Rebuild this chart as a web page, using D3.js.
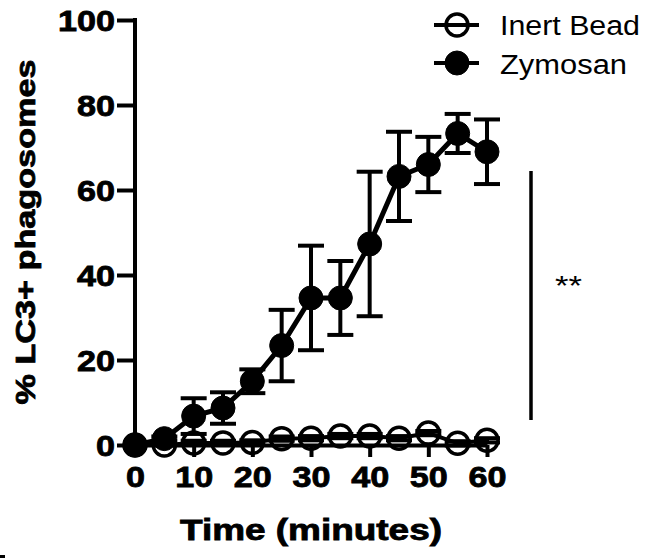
<!DOCTYPE html>
<html><head><meta charset="utf-8">
<script src="https://cdn.jsdelivr.net/npm/d3@7"></script>
<style>body{margin:0;background:#fff}svg{display:block}text{font-family:"Liberation Sans",Arial,sans-serif}</style>
</head><body>
<script>
const times = [0,5,10,15,20,25,30,35,40,45,50,55,60];
const zymosan = [0,1.5,6.8,8.7,15,23.4,34.6,34.6,47.3,63.2,66,73.3,69];
const zymosanErr = [0,0.5,4.2,3.7,2.8,8.4,12.3,8.7,17,10.5,6.5,4.6,7.6];
const inert = [0,0,0.5,0.5,0.6,1.5,1.6,2.1,2.1,1.6,2.8,0.4,1.1];
const inertErr = [0,0,0.5,0.5,0.5,0.5,0.5,0.5,0.5,0.5,0.5,0.5,0.5];
const xTicks = [0,10,20,30,40,50,60];
const yTicks = [0,20,40,60,80,100];
const seriesNames = ["Inert Bead","Zymosan"];

const W=657,H=558;
const svg=d3.select("body").append("svg").attr("width",W).attr("height",H);
const x=d3.scaleLinear().domain([0,60]).range([135,487]);
const y=d3.scaleLinear().domain([0,100]).range([445,20]);

// axes
const gx=svg.append("g").attr("transform","translate(0,445)")
  .call(d3.axisBottom(x).tickValues(xTicks).tickSize(12).tickPadding(9).tickSizeOuter(0));
const gy=svg.append("g").attr("transform","translate(135,0)")
  .call(d3.axisLeft(y).tickValues(yTicks).tickSize(18).tickPadding(2).tickSizeOuter(0));
[gx,gy].forEach(g=>{
  g.select(".domain").attr("stroke","#000").attr("stroke-width",4);
  g.selectAll(".tick line").attr("stroke","#000").attr("stroke-width",4);
  g.selectAll(".tick text").attr("fill","#000").attr("font-size",29).attr("font-weight","bold")
   .attr("stroke","#000").attr("stroke-width",0.8)
   .attr("textLength",d=>String(d).length*19).attr("lengthAdjust","spacingAndGlyphs");
});
gy.select(".domain").attr("d","M0,18V447");
gy.selectAll(".tick text").attr("dy","0.36em");

// titles
svg.append("text").attr("x",311).attr("y",540).attr("text-anchor","middle")
  .attr("font-size",29).attr("font-weight","bold").attr("stroke","#000").attr("stroke-width",0.8)
  .attr("textLength",262).attr("lengthAdjust","spacingAndGlyphs")
  .text("Time (minutes)");
svg.append("text").attr("transform","translate(35,232) rotate(-90)").attr("text-anchor","middle")
  .attr("font-size",28).attr("font-weight","bold").attr("stroke","#000").attr("stroke-width",0.8)
  .attr("textLength",345).attr("lengthAdjust","spacingAndGlyphs")
  .text("% LC3+ phagosomes");

function drawSeries(vals, errs, filled, lw){
  const g=svg.append("g");
  const pts=times.map((t,i)=>({t,v:vals[i],e:errs[i]}));
  const eb=pts.filter(d=>d.e>0);
  g.selectAll(null).data(eb).join("line")
    .attr("x1",d=>x(d.t)).attr("x2",d=>x(d.t)).attr("y1",d=>y(d.v+d.e)).attr("y2",d=>y(d.v-d.e))
    .attr("stroke","#000").attr("stroke-width",4);
  [1,-1].forEach(s=>{
    g.selectAll(null).data(eb).join("line")
      .attr("x1",d=>x(d.t)-13).attr("x2",d=>x(d.t)+13)
      .attr("y1",d=>y(d.v+s*d.e)).attr("y2",d=>y(d.v+s*d.e))
      .attr("stroke","#000").attr("stroke-width",4);
  });
  g.append("path").datum(pts).attr("fill","none").attr("stroke","#000").attr("stroke-width",lw)
    .attr("d",d3.line().x(d=>x(d.t)).y(d=>y(d.v)));
  g.selectAll(null).data(pts).join("circle")
    .attr("cx",d=>x(d.t)).attr("cy",d=>y(d.v)).attr("r",filled?12:11)
    .attr("fill",filled?"#000":"none").attr("stroke","#000").attr("stroke-width",filled?1:3.5);
}
drawSeries(inert, inertErr, false, 4);
drawSeries(zymosan, zymosanErr, true, 5);

// legend
const leg=[{name:seriesNames[0],filled:false,y:25,ty:35,w:140},{name:seriesNames[1],filled:true,y:63,ty:74,w:127}];
leg.forEach(l=>{
  svg.append("line").attr("x1",434).attr("x2",479).attr("y1",l.y).attr("y2",l.y).attr("stroke","#000").attr("stroke-width",4);
  svg.append("circle").attr("cx",457).attr("cy",l.y).attr("r",l.filled?12:11)
    .attr("fill",l.filled?"#000":"none").attr("stroke","#000").attr("stroke-width",l.filled?1:3.5);
  svg.append("text").attr("x",500).attr("y",l.ty).attr("font-size",27)
    .attr("textLength",l.w).attr("lengthAdjust","spacingAndGlyphs").text(l.name);
});

// significance
svg.append("line").attr("x1",531).attr("x2",531).attr("y1",171).attr("y2",420).attr("stroke","#000").attr("stroke-width",3.5);
svg.append("text").attr("x",555).attr("y",295).attr("font-size",28).attr("textLength",27).attr("lengthAdjust","spacingAndGlyphs").text("**");

svg.append("rect").attr("x",0).attr("y",555).attr("width",5).attr("height",3).attr("fill","#000");
</script>
</body></html>
